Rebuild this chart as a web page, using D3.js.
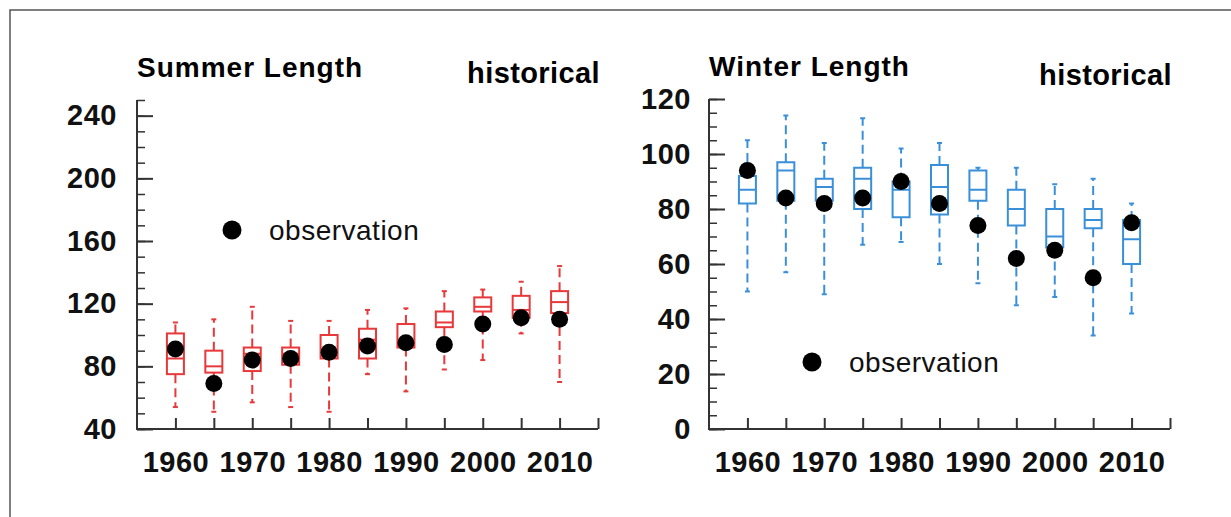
<!DOCTYPE html>
<html>
<head>
<meta charset="utf-8">
<script src="https://cdn.jsdelivr.net/npm/d3@7"></script>
<style>
  body { margin: 0; background: #fff; }
  text { font-family: "Liberation Sans", Arial, Helvetica, sans-serif; }
</style>
</head>
<body>
<div id="chart"></div>
<script>
// years on the x axis
var years = [1960, 1965, 1970, 1975, 1980, 1985, 1990, 1995, 2000, 2005, 2010]
var xTickLabels = [1960, 1970, 1980, 1990, 2000, 2010]

// summer length (days), model spread + observation
var summerHigh   = [108, 110, 118, 109, 109, 116, 117, 128, 129, 134, 144]
var summerQ3     = [101, 90, 92, 92, 100, 104, 107, 115, 124, 125, 128]
var summerMedian = [85, 80, 88, 88, 90, 97, 94, 108, 118, 116, 121]
var summerQ1     = [75, 76, 77, 81, 85, 85, 92, 105, 115, 111, 114]
var summerLow    = [54, 51, 57, 54, 51, 75, 64, 78, 84, 101, 70]
var summerObs    = [91, 69, 84, 85, 89, 93, 95, 94, 107, 111, 110]
var summerTicks  = [40, 80, 120, 160, 200, 240]

// winter length (days)
var winterHigh   = [105, 114, 104, 113, 102, 104, 95, 95, 89, 91, 82]
var winterQ3     = [92, 97, 91, 95, 90, 96, 94, 87, 80, 80, 76]
var winterMedian = [87, 94, 88, 91, 87, 88, 87, 80, 70, 76, 69]
var winterQ1     = [82, 83, 83, 80, 77, 78, 83, 74, 66, 73, 60]
var winterLow    = [50, 57, 49, 67, 68, 60, 53, 45, 48, 34, 42]
var winterObs    = [94, 84, 82, 84, 90, 82, 74, 62, 65, 55, 75]
var winterTicks  = [0, 20, 40, 60, 80, 100, 120]

var width = 1231, height = 517

var svg = d3.select('#chart').append('svg')
  .attr('width', width)
  .attr('height', height)

// frame (only top and left edges are inside the picture)
svg.append('rect')
  .attr('x', 10).attr('y', 10)
  .attr('width', 1240).attr('height', 530)
  .attr('fill', 'none')
  .attr('stroke', '#555')
  .attr('stroke-width', 1.5)

function panel(opt) {
  var g = svg.append('g')

  var x = d3.scaleLinear().domain([1955, 2015]).range([opt.left, opt.right])
  var y = d3.scaleLinear().domain(opt.yDomain).range([opt.bottom, opt.top])

  var axisColor = '#333'

  // minor y ticks (inward)
  g.append('g')
    .attr('transform', 'translate(' + opt.left + ',0)')
    .call(d3.axisRight(y).tickValues(d3.range(opt.yDomain[0], opt.yDomain[1] + 0.1, opt.minorStep))
      .tickSize(8).tickFormat('').tickSizeOuter(0))
    .call(a => a.select('.domain').remove())
    .selectAll('line').attr('stroke', axisColor).attr('stroke-width', 1.5)

  // major y ticks (inward)
  g.append('g')
    .attr('transform', 'translate(' + opt.left + ',0)')
    .call(d3.axisRight(y).tickValues(opt.yTicks).tickSize(16).tickFormat('').tickSizeOuter(0))
    .call(a => a.select('.domain').remove())
    .selectAll('line').attr('stroke', axisColor).attr('stroke-width', 2)

  // y labels
  g.append('g')
    .attr('transform', 'translate(' + opt.left + ',0)')
    .call(d3.axisLeft(y).tickValues(opt.yTicks).tickSize(0).tickPadding(opt.yPad))
    .call(a => a.select('.domain').remove())
    .selectAll('text')
      .attr('font-size', 29).attr('font-weight', 'bold').attr('fill', '#111')
      .attr('letter-spacing', 0.5)

  // x ticks (inward, every 5 years)
  g.append('g')
    .attr('transform', 'translate(0,' + opt.bottom + ')')
    .call(d3.axisTop(x).tickValues(d3.range(1960, 2016, 5)).tickSize(11).tickFormat('').tickSizeOuter(0))
    .call(a => a.select('.domain').remove())
    .selectAll('line').attr('stroke', axisColor).attr('stroke-width', 2)

  // x labels
  g.append('g')
    .attr('transform', 'translate(0,' + opt.bottom + ')')
    .call(d3.axisBottom(x).tickValues(xTickLabels).tickSize(0).tickPadding(22).tickFormat(d3.format('d')))
    .call(a => a.select('.domain').remove())
    .selectAll('text')
      .attr('font-size', 29).attr('font-weight', 'bold').attr('fill', '#111')
      .attr('letter-spacing', 0.5)

  // axis lines
  g.append('path')
    .attr('d', 'M' + opt.left + ',' + opt.top + 'V' + opt.bottom + 'H' + opt.right)
    .attr('fill', 'none').attr('stroke', axisColor).attr('stroke-width', 2)

  var rows = years.map((yr, i) => ({
    year: yr, hi: opt.high[i], q3: opt.q3[i], med: opt.median[i],
    q1: opt.q1[i], lo: opt.low[i], obs: opt.obs[i]
  }))

  var boxW = 17, capW = 5
  var color = opt.color

  var box = g.append('g').selectAll('g')
    .data(rows)
    .enter()
    .append('g')

  // whiskers
  box.append('line')
    .attr('x1', d => x(d.year)).attr('x2', d => x(d.year))
    .attr('y1', d => y(d.q3)).attr('y2', d => y(d.hi))
    .attr('stroke', color).attr('stroke-width', 2).attr('stroke-dasharray', '9,5')
  box.append('line')
    .attr('x1', d => x(d.year)).attr('x2', d => x(d.year))
    .attr('y1', d => y(d.q1)).attr('y2', d => y(d.lo))
    .attr('stroke', color).attr('stroke-width', 2).attr('stroke-dasharray', '9,5')
  box.append('line')
    .attr('x1', d => x(d.year) - capW / 2).attr('x2', d => x(d.year) + capW / 2)
    .attr('y1', d => y(d.hi)).attr('y2', d => y(d.hi))
    .attr('stroke', color).attr('stroke-width', 2)
  box.append('line')
    .attr('x1', d => x(d.year) - capW / 2).attr('x2', d => x(d.year) + capW / 2)
    .attr('y1', d => y(d.lo)).attr('y2', d => y(d.lo))
    .attr('stroke', color).attr('stroke-width', 2)

  // box
  box.append('rect')
    .attr('x', d => x(d.year) - boxW / 2)
    .attr('y', d => y(d.q3))
    .attr('width', boxW)
    .attr('height', d => y(d.q1) - y(d.q3))
    .attr('fill', '#fff')
    .attr('stroke', color).attr('stroke-width', 2)
  box.append('line')
    .attr('x1', d => x(d.year) - boxW / 2).attr('x2', d => x(d.year) + boxW / 2)
    .attr('y1', d => y(d.med)).attr('y2', d => y(d.med))
    .attr('stroke', color).attr('stroke-width', 2)

  // observations
  box.append('circle')
    .attr('cx', d => x(d.year))
    .attr('cy', d => y(d.obs))
    .attr('r', 8.5)
    .attr('fill', '#000')

  // titles
  g.append('text')
    .attr('x', opt.left).attr('y', opt.titleY)
    .attr('font-size', 28).attr('font-weight', 'bold')
    .attr('letter-spacing', 1)
    .text(opt.title)
  g.append('text')
    .attr('x', opt.right + 2).attr('y', opt.histY)
    .attr('text-anchor', 'end')
    .attr('font-size', 29).attr('font-weight', 'bold')
    .attr('letter-spacing', 0.4)
    .text('historical')

  // legend
  g.append('circle')
    .attr('cx', opt.legendX).attr('cy', opt.legendY)
    .attr('r', 9.5).attr('fill', '#000')
  g.append('text')
    .attr('x', opt.legendX + 37).attr('y', opt.legendY + 10)
    .attr('font-size', 28)
    .attr('letter-spacing', 0.5)
    .attr('fill', '#111')
    .text('observation')
}

panel({
  title: 'Summer Length', titleY: 77, histY: 83,
  left: 137, right: 598, top: 100, bottom: 429,
  yDomain: [40, 250], yTicks: summerTicks, minorStep: 10, yPad: 20,
  high: summerHigh, q3: summerQ3, median: summerMedian, q1: summerQ1, low: summerLow, obs: summerObs,
  color: '#e8383a', legendX: 232, legendY: 230
})

panel({
  title: 'Winter Length', titleY: 76, histY: 85,
  left: 709, right: 1170, top: 99, bottom: 429,
  yDomain: [0, 120], yTicks: winterTicks, minorStep: 5, yPad: 18,
  high: winterHigh, q3: winterQ3, median: winterMedian, q1: winterQ1, low: winterLow, obs: winterObs,
  color: '#3a8fd9', legendX: 812, legendY: 362
})
</script>
</body>
</html>
